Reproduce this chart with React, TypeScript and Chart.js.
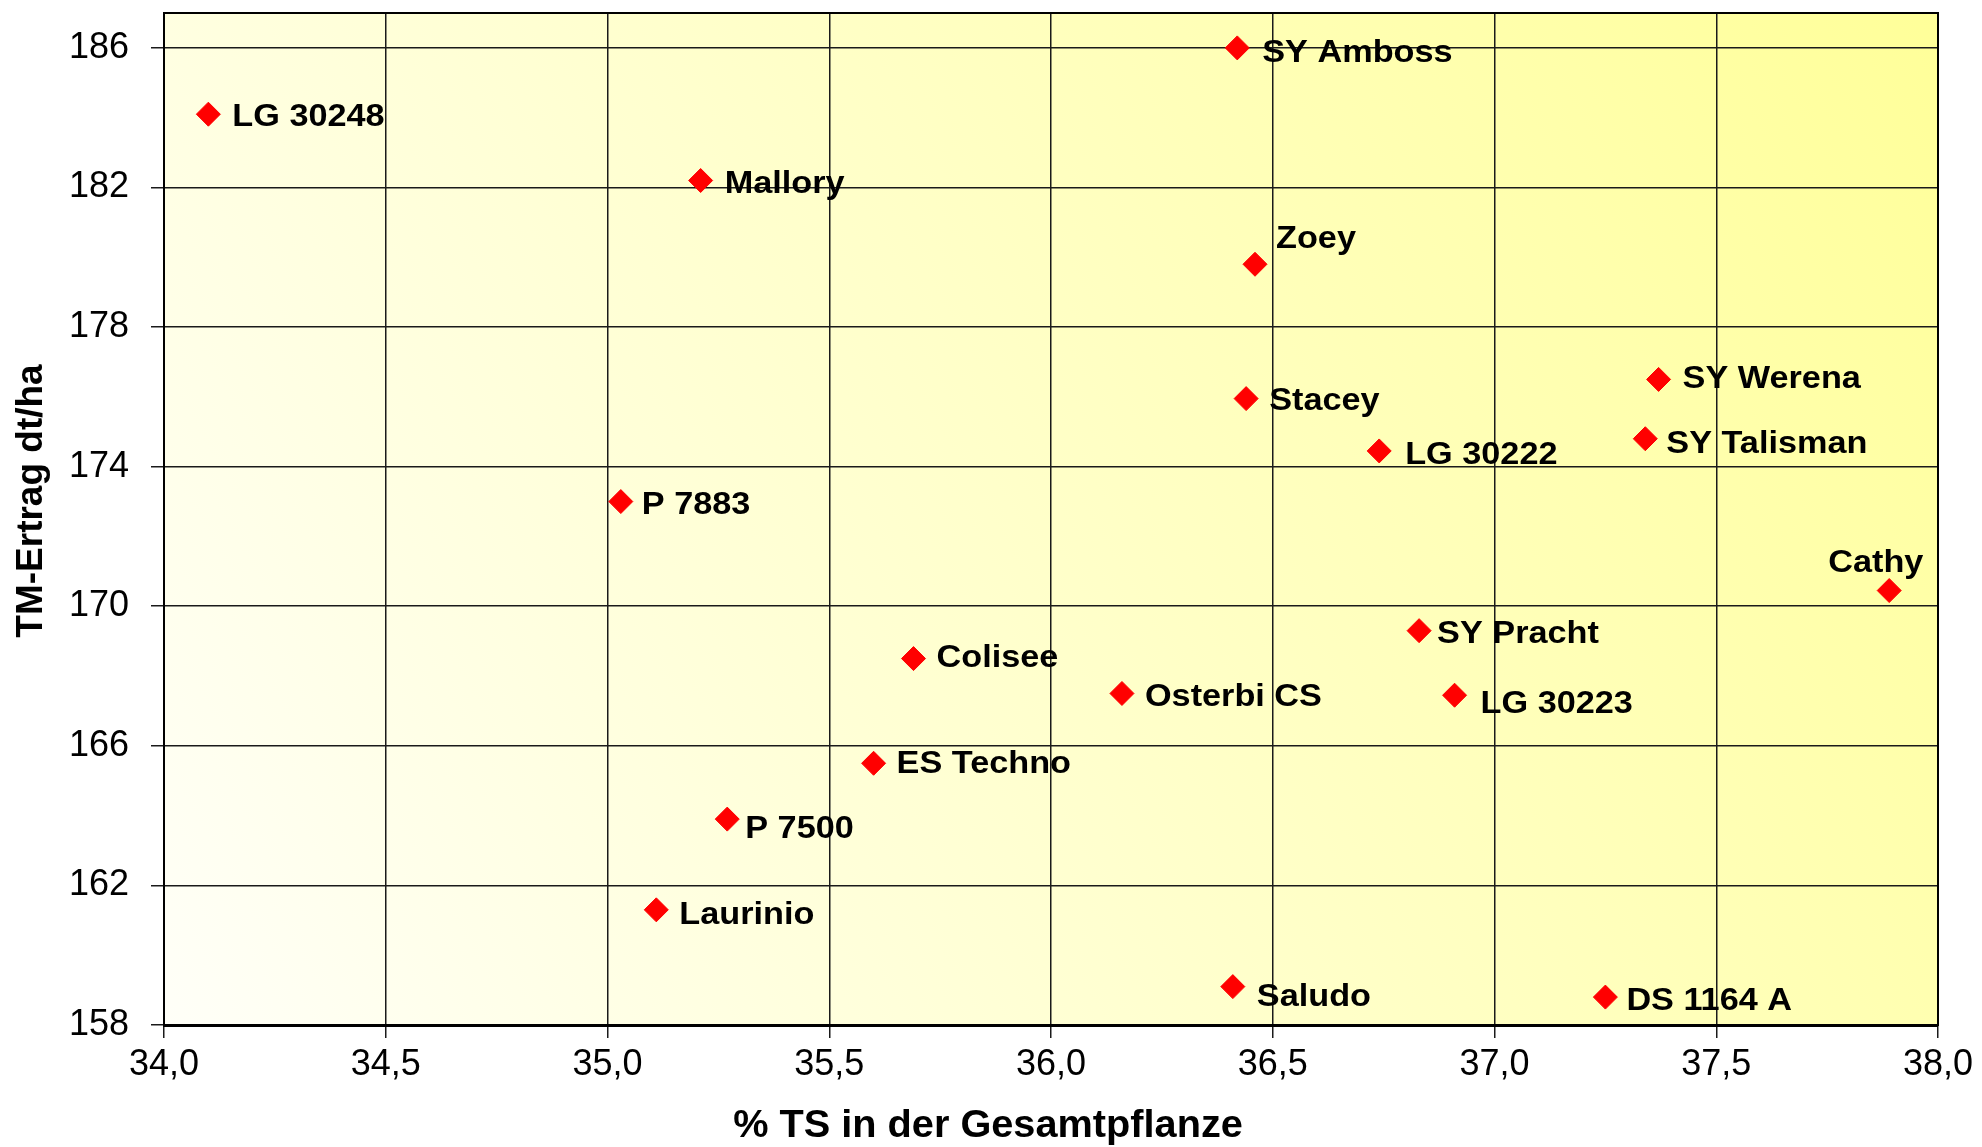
import React, { useEffect, useRef } from "react";
import { Chart, registerables } from "chart.js";

Chart.register(...registerables);

// ---- Data ----
const VARIETIES: string[] = [
  "LG 30248", "SY Amboss", "Mallory", "Zoey", "Stacey", "SY Werena", "SY Talisman",
  "LG 30222", "P 7883", "Cathy", "SY Pracht", "Colisee", "Osterbi CS", "LG 30223",
  "ES Techno", "P 7500", "Laurinio", "Saludo", "DS 1164 A",
];
const TS_PERCENT: number[] = [
  34.10, 36.42, 35.21, 36.46, 36.44, 37.37, 37.34,
  36.74, 35.03, 37.89, 36.83, 35.69, 36.16, 36.91,
  35.60, 35.27, 35.11, 36.41, 37.25,
];
const YIELD_DT_HA: number[] = [
  184.1, 186.0, 182.2, 179.8, 175.95, 176.5, 174.8,
  174.45, 173.0, 170.45, 169.3, 168.5, 167.5, 167.45,
  165.5, 163.9, 161.3, 159.1, 158.8,
];
const X_TICKS: number[] = [34.0, 34.5, 35.0, 35.5, 36.0, 36.5, 37.0, 37.5, 38.0];
const Y_TICKS: number[] = [158, 162, 166, 170, 174, 178, 182, 186];
const X_TITLE = "% TS in der Gesamtpflanze";
const Y_TITLE = "TM-Ertrag dt/ha";

// ---- Label layout (pixel offsets of label text from its marker) ----
const LABEL_OFFSETS: Record<string, [number, number]> = {
  "LG 30248": [24, 3],
  "SY Amboss": [25, 5],
  "Mallory": [24, 4],
  "Zoey": [21, -25],
  "Stacey": [23, 3],
  "SY Werena": [24, 0],
  "SY Talisman": [21, 5],
  "LG 30222": [26, 4],
  "P 7883": [21, 4],
  "Cathy": [-61, -27],
  "SY Pracht": [18, 4],
  "Colisee": [23, 0],
  "Osterbi CS": [23, 4],
  "LG 30223": [26, 9],
  "ES Techno": [23, 1],
  "P 7500": [18, 10],
  "Laurinio": [23, 5],
  "Saludo": [24, 11],
  "DS 1164 A": [21, 4],
};

const FONT = "'Liberation Sans', Arial, sans-serif";

const backgroundPlugin = {
  id: "plotBackground",
  beforeDraw(chart: any) {
    const { ctx, chartArea } = chart;
    if (!chartArea) return;
    const { left, top, right, bottom } = chartArea;
    const g = ctx.createLinearGradient(left, bottom, right, top);
    g.addColorStop(0, "#FFFFF8");
    g.addColorStop(1, "#FFFF99");
    ctx.save();
    ctx.fillStyle = g;
    ctx.fillRect(left, top, right - left, bottom - top);
    ctx.restore();
  },
};

const borderLabelPlugin = {
  id: "borderAndLabels",
  afterDatasetsDraw(chart: any) {
    const { ctx, chartArea } = chart;
    const { left, top, right, bottom } = chartArea;
    ctx.save();
    ctx.strokeStyle = "#000";
    ctx.lineWidth = 2;
    ctx.strokeRect(left, top, right - left, bottom - top);
    const meta = chart.getDatasetMeta(0);
    ctx.fillStyle = "#000";
    ctx.font = `bold 32px ${FONT}`;
    ctx.textAlign = "left";
    ctx.textBaseline = "middle";
    meta.data.forEach((el: any, i: number) => {
      const name = VARIETIES[i];
      const off = LABEL_OFFSETS[name] || [22, 0];
      ctx.save();
      ctx.translate(el.x + off[0], el.y + off[1]);
      ctx.scale(1.07, 1);
      ctx.fillText(name, 0, 0);
      ctx.restore();
    });
    ctx.restore();
  },
  afterDraw(chart: any) {
    const { ctx } = chart;
    ctx.save();
    ctx.fillStyle = "#000";
    ctx.textAlign = "center";
    ctx.textBaseline = "middle";
    // x-axis title
    ctx.font = `bold 38px ${FONT}`;
    ctx.save();
    ctx.translate(988, 1127);
    ctx.scale(1.045, 1);
    ctx.fillText(X_TITLE, 0, 0);
    ctx.restore();
    // y-axis title
    ctx.font = `bold 37px ${FONT}`;
    ctx.translate(32, 501);
    ctx.rotate(-Math.PI / 2);
    ctx.fillText(Y_TITLE, 0, 0);
    ctx.restore();
  },
};

export default function App() {
  const canvasRef = useRef<HTMLCanvasElement | null>(null);

  useEffect(() => {
    const canvas = canvasRef.current;
    if (!canvas) return;
    const points = TS_PERCENT.map((x, i) => ({ x, y: YIELD_DT_HA[i] }));
    const chart = new Chart(canvas, {
      type: "scatter",
      data: {
        datasets: [
          {
            label: "Sorten",
            data: points,
            pointStyle: "rectRot",
            pointRadius: 12,
            pointHoverRadius: 12,
            backgroundColor: "#FF0000",
            borderColor: "#FF0000",
            borderWidth: 1,
          },
        ],
      },
      options: {
        responsive: false,
        devicePixelRatio: 1,
        animation: false,
        layout: { padding: { top: 12, right: 44, left: 0, bottom: 0 } },
        plugins: {
          legend: { display: false },
          tooltip: { enabled: false },
        },
        scales: {
          x: {
            type: "linear",
            min: 34,
            max: 38,
            afterBuildTicks: (s: any) => {
              s.ticks = X_TICKS.map((v) => ({ value: v }));
            },
            afterFit: (s: any) => {
              s.height = 122;
              s.paddingLeft = 0;
              s.paddingRight = 0;
            },
            ticks: {
              color: "#000",
              font: { family: FONT, size: 36 },
              padding: 5,
              maxRotation: 0,
              callback: (v: any) => Number(v).toFixed(1).replace(".", ","),
            },
            grid: { color: "#1a1a1a", lineWidth: 1.5, tickLength: 13 },
            border: { color: "#000", width: 3 },
          },
          y: {
            type: "linear",
            min: 158,
            max: 187,
            afterBuildTicks: (s: any) => {
              s.ticks = Y_TICKS.map((v) => ({ value: v }));
            },
            afterFit: (s: any) => {
              s.width = 164;
              s.paddingTop = 0;
              s.paddingBottom = 0;
            },
            ticks: {
              color: "#000",
              font: { family: FONT, size: 36 },
              padding: 22,
              callback: (v: any) => String(v),
            },
            grid: { color: "#1a1a1a", lineWidth: 1.5, tickLength: 13 },
            border: { color: "#000", width: 2 },
          },
        },
      },
      plugins: [backgroundPlugin, borderLabelPlugin],
    } as any);
    return () => chart.destroy();
  }, []);

  return (
    <div style={{ position: "absolute", left: 0, top: 0, width: 1982, height: 1147, background: "#fff" }}>
      <canvas ref={canvasRef} width={1982} height={1147} style={{ display: "block" }} />
    </div>
  );
}
